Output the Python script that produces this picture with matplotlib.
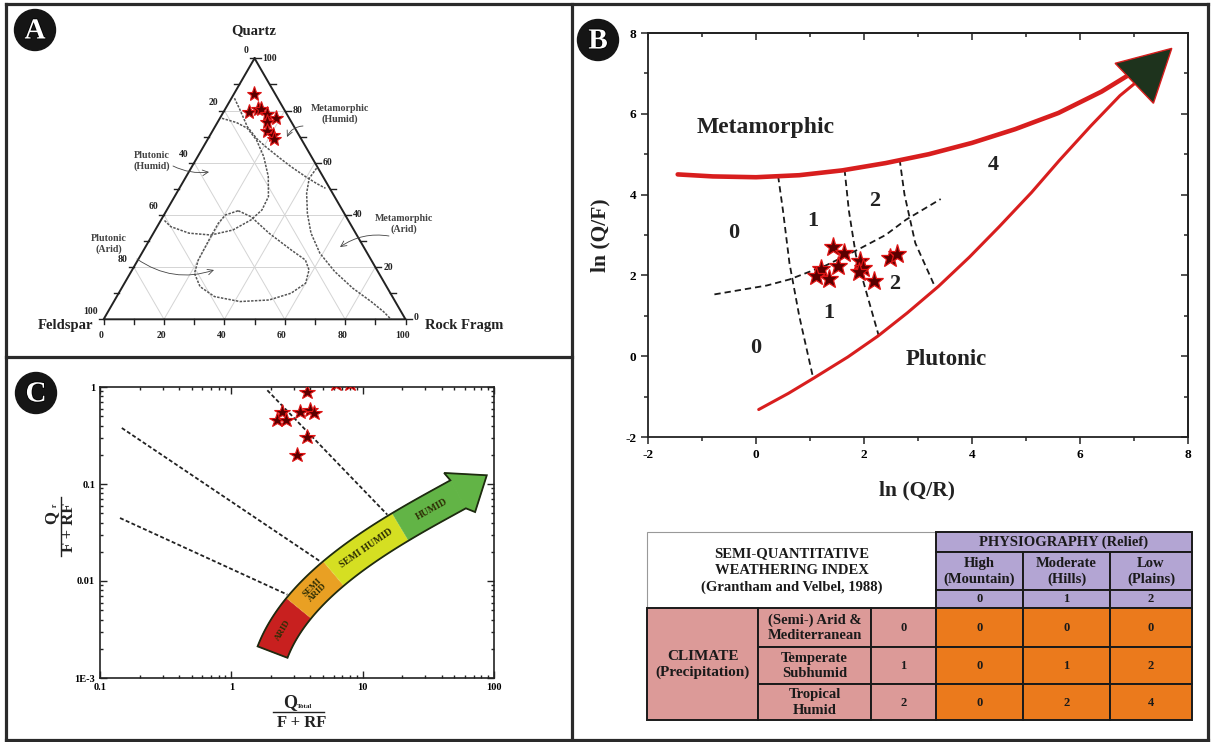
import numpy as np
import matplotlib
matplotlib.use("Agg")
import matplotlib.pyplot as plt
from matplotlib.patches import Circle, Polygon, Rectangle
from matplotlib.transforms import IdentityTransform
import matplotlib.ticker as mticker
import matplotlib.patheffects as pe

W, H = 1211, 742
plt.rcParams['font.family'] = ['Liberation Serif', 'DejaVu Serif']
plt.rcParams['font.weight'] = 'bold'

RED = '#d81e1e'
STAR_FC = '#5a0000'
STAR_EC = '#e01515'

# ---------------- Panel A data (QFR ternary, %) ----------------
a_quartz   = [86.5, 79.5, 80.5, 80.5, 78.5, 77.0, 75.5, 72.0, 70.5, 69.0]
a_feldspar = [7.0, 12.0, 8.5, 7.5, 6.5, 4.5, 8.0, 10.0, 8.5, 9.0]
a_rockfrag = [6.5, 8.5, 11.0, 12.0, 15.0, 18.5, 16.5, 18.0, 21.0, 22.0]
a_ticks = [0, 20, 40, 60, 80, 100]
# field boundaries (Q %, RF %)
a_meta_humid_q = [84.7, 80.2, 73.8, 69.3, 66.2, 61.7, 58.5, 54.7, 52.1, 50.2]
a_meta_humid_r = [1.0, 5.1, 10.7, 16.0, 20.5, 27.6, 32.8, 39.5, 44.4, 48.4]
a_plut_humid_q = [77.0, 75.4, 73.2, 68.7, 62.3, 54.7, 47.0, 41.9, 38.1, 34.2, 32.3, 33.0, 35.5, 38.1]
a_plut_humid_r = [0.7, 6.3, 11.0, 16.3, 21.9, 27.2, 31.1, 31.5, 29.8, 25.7, 19.4, 11.8, 4.5, 0.9]
a_plut_arid_q = [41.6, 39.3, 33.0, 26.6, 22.7, 18.9, 13.8, 10.0, 7.4, 6.8, 8.7, 12.5, 17.6, 22.7, 30.4, 36.8, 40.0, 41.6]
a_plut_arid_r = [23.8, 29.2, 38.3, 48.8, 55.5, 58.6, 60.0, 57.1, 51.1, 41.8, 32.4, 25.7, 21.3, 20.0, 19.7, 19.6, 20.4, 23.8]
a_meta_arid_q = [57.9, 54.0, 48.3, 40.6, 33.0, 25.3, 18.3, 11.9, 6.8, 2.9, 0.0]
a_meta_arid_r = [41.6, 41.1, 43.1, 47.2, 52.2, 59.0, 67.4, 76.6, 85.2, 91.3, 95.2]

# ---------------- Panel B data ----------------
b_lnQR = [1.42, 1.63, 1.51, 1.21, 1.12, 1.36, 1.92, 1.98, 1.90, 2.19, 2.48, 2.61]
b_lnQF = [2.71, 2.56, 2.23, 2.16, 1.98, 1.92, 2.35, 2.19, 2.08, 1.86, 2.44, 2.52]
b_meta_x = [-1.45, -0.8, 0.0, 0.8, 1.6, 2.4, 3.2, 4.0, 4.8, 5.6, 6.4, 6.95]
b_meta_y = [4.50, 4.45, 4.43, 4.48, 4.60, 4.78, 5.00, 5.28, 5.62, 6.02, 6.55, 7.00]
b_plut_x = [0.05, 0.6, 1.06, 1.7, 2.26, 2.8, 3.38, 3.95, 4.5, 5.1, 5.62, 6.2, 6.74, 7.24]
b_plut_y = [-1.32, -0.92, -0.55, -0.02, 0.50, 1.07, 1.73, 2.45, 3.20, 4.05, 4.85, 5.70, 6.45, 7.00]
b_head_x = [6.65, 7.70, 7.36]
b_head_y = [7.25, 7.62, 6.26]
b_dash1_x = [0.41, 0.50, 0.62, 0.80, 1.06]
b_dash1_y = [4.46, 3.60, 2.30, 1.00, -0.55]
b_dash2_x = [1.64, 1.72, 1.85, 2.04, 2.27]
b_dash2_y = [4.62, 3.60, 2.50, 1.60, 0.52]
b_dash3_x = [2.66, 2.75, 2.95, 3.31]
b_dash3_y = [4.87, 4.00, 2.80, 1.73]
b_dashh_x = [-0.77, 0.20, 0.62, 1.30, 1.89, 2.40, 2.78, 3.42]
b_dashh_y = [1.53, 1.75, 1.90, 2.25, 2.64, 3.00, 3.38, 3.89]
b_zone_labels = ['0', '1', '2', '4', '2', '1', '0']
b_zone_x = [-0.41, 1.06, 2.19, 4.39, 2.56, 1.35, 0.0]
b_zone_y = [3.05, 3.34, 3.84, 4.73, 1.78, 1.07, 0.21]
b_ticks = [-2, 0, 2, 4, 6, 8]

# ---------------- Panel C data ----------------
c_qt = [3.79, 2.42, 2.22, 2.61, 3.33, 3.97, 4.26, 3.75, 3.15, 6.3, 8.0]
c_qr = [0.888, 0.552, 0.461, 0.461, 0.552, 0.575, 0.539, 0.305, 0.198, 1.08, 1.08]
c_line1_x = [1.88, 15.4];  c_line1_y = [0.925, 0.0483]
c_line2_x = [0.1466, 4.74]; c_line2_y = [0.378, 0.01596]
c_line3_x = [0.142, 2.67]; c_line3_y = [0.0446, 0.00724]
c_arrow_x = [2.06, 3.40, 19.3, 53.3]
c_arrow_y = [0.00185, 0.0109, 0.0366, 0.0783]
c_head_x = [41.7, 88.1, 71.8]
c_head_y = [0.130, 0.123, 0.0514]
c_zone_names = ['ARID', 'SEMI\nARID', 'SEMI HUMID', 'HUMID']
c_zone_bounds = [0.0, 0.21, 0.40, 0.71, 1.0]
c_zone_colors = ['#c8201f', '#e9a023', '#d5df22', '#62b446']
c_xticks = [0.1, 1, 10, 100]; c_xlabels = ['0.1', '1', '10', '100']
c_yticks = [1e-3, 1e-2, 1e-1, 1]; c_ylabels = ['1E-3', '0.01', '0.1', '1']

# ---------------- Table data ----------------
t_title = "SEMI-QUANTITATIVE\nWEATHERING INDEX\n(Grantham and Velbel, 1988)"
t_relief_header = "PHYSIOGRAPHY (Relief)"
t_relief = ["High\n(Mountain)", "Moderate\n(Hills)", "Low\n(Plains)"]
t_relief_score = ["0", "1", "2"]
t_climate_header = "CLIMATE\n(Precipitation)"
t_climate = ["(Semi-) Arid &\nMediterranean", "Temperate\nSubhumid", "Tropical\nHumid"]
t_climate_score = ["0", "1", "2"]
t_index = [[0, 0, 0], [0, 1, 2], [0, 2, 4]]

# ======================================================================
fig = plt.figure(figsize=(W / 100, H / 100), dpi=100, facecolor='white')
ov = fig.add_axes([0, 0, 1, 1], zorder=0)
ov.set_xlim(0, W); ov.set_ylim(H, 0); ov.axis('off')

def px_axes(x0, y0, x1, y1, **kw):
    return fig.add_axes([x0 / W, 1 - y1 / H, (x1 - x0) / W, (y1 - y0) / H], **kw)

# ---- panel borders ----
BC = '#2a2a2a'
for (xs, ys) in [([6, 1208], [4, 4]), ([6, 1208], [740, 740]), ([6, 6], [4, 740]),
                 ([1208, 1208], [4, 740]), ([572, 572], [4, 740]), ([6, 572], [357, 357])]:
    ov.plot(xs, ys, color=BC, lw=2.3, solid_capstyle='projecting')

def badge(x, y, letter):
    ov.add_patch(Circle((x, y), 20.5, fc='#151515', ec='#151515', zorder=5))
    ov.text(x, y + 1, letter, color='white', fontsize=21, ha='center', va='center',
            fontweight='bold', zorder=6,
            path_effects=[pe.withStroke(linewidth=1.2, foreground='black')])

badge(35, 30, 'A'); badge(598, 40, 'B'); badge(36, 393, 'C')

# ======================= Panel A: ternary ============================
TBL = (103.6, 319.3); TBR = (405.5, 319.3); TTOPY = 58.3

def tern(q, r):
    q = np.asarray(q, float); r = np.asarray(r, float)
    x = TBL[0] + (r / 100 + q / 200) * (TBR[0] - TBL[0])
    y = TBL[1] - q / 100 * (TBL[1] - TTOPY)
    return x, y

# grid
for v in a_ticks[1:-1]:
    for (q0, r0, q1, r1) in [(v, 0, v, 100 - v), (0, v, 100 - v, v), (0, 100 - v, 100 - v, 0)]:
        gx, gy = tern([q0, q1], [r0, r1])
        ov.plot(gx, gy, color='#d4d4d4', lw=0.7, zorder=1)
# triangle
tx, ty = tern([100, 0, 0, 100], [0, 0, 100, 0])
ov.plot(tx, ty, color='#222222', lw=1.4, zorder=3)
# ticks every 10
for v in range(0, 101, 10):
    bx, by = tern(0, v)            # bottom: RF
    ov.plot([bx, bx], [by, by + 5], color='#222', lw=1, zorder=3)
    lx, ly = tern(100 - v, 0)      # left: Feldspar
    ov.plot([lx - 5, lx], [ly, ly], color='#222', lw=1, zorder=3)
    rx, ry = tern(v, 100 - v)      # right: Quartz
    ov.plot([rx, rx + 6], [ry, ry], color='#222', lw=1, zorder=3)
for v in a_ticks:
    bx, by = tern(0, v)
    ov.text(bx - 3, by + 16, str(v), fontsize=7, ha='center', va='center', color='#222')
    lx, ly = tern(100 - v, 0)
    ov.text(lx - 6, ly - 8, str(v), fontsize=7, ha='right', va='center', color='#222')
    rx, ry = tern(v, 100 - v)
    ov.text(rx + 8, ry - (2 if v == 0 else 0), str(v), fontsize=7, ha='left',
            va='center', color='#222')

ov.text(254, 31, 'Quartz', fontsize=10.5, ha='center', va='center', color='#222')
ov.text(65, 325, 'Feldspar', fontsize=10.5, ha='center', va='center', color='#222')
rt = ov.text(425, 326, 'Rock Fragments', fontsize=10.5, ha='left', va='center',
             color='#222', clip_on=True)
rt.set_clip_path(Rectangle((0, 0), 504, 357, transform=ov.transData))

# field boundaries
for q, r in [(a_meta_humid_q, a_meta_humid_r), (a_plut_humid_q, a_plut_humid_r),
             (a_plut_arid_q, a_plut_arid_r), (a_meta_arid_q, a_meta_arid_r)]:
    cx_, cy_ = tern(q, r)
    ov.plot(cx_, cy_, color='#555555', lw=1.1, ls=(0, (1.6, 0.9)), zorder=2)

lab_kw = dict(fontsize=7.2, ha='center', va='center', color='#444444', linespacing=1.25)
arr_kw = dict(arrowstyle='->', lw=0.6, color='#444444', shrinkA=0, shrinkB=0)
ov.text(340, 114, 'Metamorphic\n(Humid)', **lab_kw)
ov.annotate('', xy=(287, 137), xytext=(303, 126),
            arrowprops=dict(connectionstyle='arc3,rad=0.3', **arr_kw))
ov.text(152, 161, 'Plutonic\n(Humid)', **lab_kw)
ov.annotate('', xy=(209, 172), xytext=(173, 166),
            arrowprops=dict(connectionstyle='arc3,rad=0.15', **arr_kw))
ov.text(109, 244, 'Plutonic\n(Arid)', **lab_kw)
ov.annotate('', xy=(214, 270), xytext=(137, 259),
            arrowprops=dict(connectionstyle='arc3,rad=0.25', **arr_kw))
ov.text(404, 224, 'Metamorphic\n(Arid)', **lab_kw)
ov.annotate('', xy=(340, 247), xytext=(389, 236),
            arrowprops=dict(connectionstyle='arc3,rad=0.2', **arr_kw))

sx, sy = tern(a_quartz, a_rockfrag)
ov.plot(sx, sy, ls='none', marker='*', ms=11, mfc=STAR_FC, mec=STAR_EC, mew=0.8, zorder=4)

# ======================= Panel B ============================
axB = px_axes(648, 33, 1188, 437, zorder=2)
axB.set_facecolor('none')
axB.set_xlim(-2, 8); axB.set_ylim(-2, 8)
axB.plot(b_meta_x, b_meta_y, color=RED, lw=3.3, solid_capstyle='round', zorder=3)
axB.plot(b_plut_x, b_plut_y, color=RED, lw=2.2, solid_capstyle='round', zorder=3)
axB.add_patch(Polygon(np.column_stack([b_head_x, b_head_y]), closed=True,
                      fc='#1e331d', ec=RED, lw=1.0, zorder=4))
for xs, ys in [(b_dash1_x, b_dash1_y), (b_dash2_x, b_dash2_y),
               (b_dash3_x, b_dash3_y), (b_dashh_x, b_dashh_y)]:
    axB.plot(xs, ys, color='#1a1a1a', lw=1.3, ls=(0, (3.5, 2.2)), zorder=2)
axB.plot(b_lnQR, b_lnQF, ls='none', marker='*', ms=14, mfc=STAR_FC, mec=STAR_EC,
         mew=0.9, zorder=5)
for s, x, y in zip(b_zone_labels, b_zone_x, b_zone_y):
    axB.text(x, y, s, fontsize=16, ha='center', va='center', color='#222')
axB.text(0.17, 5.67, 'Metamorphic', fontsize=17, ha='center', va='center', color='#222')
axB.text(3.53, -0.08, 'Plutonic', fontsize=16.5, ha='center', va='center', color='#222')
axB.set_xticks(b_ticks); axB.set_yticks(b_ticks)
axB.set_xticklabels([str(t) for t in b_ticks]); axB.set_yticklabels([str(t) for t in b_ticks])
axB.xaxis.set_minor_locator(mticker.MultipleLocator(1))
axB.yaxis.set_minor_locator(mticker.MultipleLocator(1))
axB.tick_params(which='both', direction='out', labelsize=9.5, width=1.1, color='#222')
axB.tick_params(which='major', length=5)
axB.tick_params(which='minor', length=3)
for sp in axB.spines.values():
    sp.set_linewidth(1.3); sp.set_color('#222')
for side in ['top', 'right']:
    if side == 'top':
        sec = axB.secondary_xaxis('top')
        sec.set_xticks(b_ticks); sec.xaxis.set_minor_locator(mticker.MultipleLocator(1))
    else:
        sec = axB.secondary_yaxis('right')
        sec.set_yticks(b_ticks); sec.yaxis.set_minor_locator(mticker.MultipleLocator(1))
    sec.tick_params(which='both', direction='in', labeltop=False, labelright=False,
                    labelbottom=False, labelleft=False, width=1.1, color='#222')
    sec.tick_params(which='major', length=5)
    sec.tick_params(which='minor', length=3)
    for sp in sec.spines.values():
        sp.set_linewidth(1.3); sp.set_color('#222')
ov.text(600, 235, 'ln (Q/F)', fontsize=15.5, rotation=90, ha='center', va='center', color='#222')
ov.text(917, 490, 'ln (Q/R)', fontsize=15.5, ha='center', va='center', color='#222')

# ======================= Table ============================
cx = [647, 758, 871, 936, 1023, 1110, 1192]
ry = [532, 552, 590, 608, 647, 684, 720]
PURPLE = '#b3a5d3'; PINK = '#dc9a98'; ORANGE = '#eb7a1c'; TE = '#1a1a1a'

def cell(x0, x1, y0, y1, fc, ec=TE, lw=1.4):
    ov.add_patch(Rectangle((x0, y0), x1 - x0, y1 - y0, fc=fc, ec=ec, lw=lw, zorder=2))

def ctext(x0, x1, y0, y1, s, fs=10.5, ls=1.2):
    ov.text((x0 + x1) / 2, (y0 + y1) / 2 + 0.5, s, fontsize=fs, ha='center', va='center',
            color='#1a1a1a', linespacing=ls, zorder=3)

cell(cx[0], cx[3], ry[0], ry[3], 'white', ec='#999999', lw=0.8)
ctext(cx[0], cx[3], ry[0], ry[3], t_title, fs=10.5, ls=1.4)
cell(cx[3], cx[6], ry[0], ry[1], PURPLE)
ctext(cx[3], cx[6], ry[0], ry[1], t_relief_header, fs=10.5)
for j in range(3):
    cell(cx[3 + j], cx[4 + j], ry[1], ry[2], PURPLE)
    ctext(cx[3 + j], cx[4 + j], ry[1], ry[2], t_relief[j], fs=10.5, ls=1.15)
    cell(cx[3 + j], cx[4 + j], ry[2], ry[3], PURPLE)
    ctext(cx[3 + j], cx[4 + j], ry[2], ry[3], t_relief_score[j], fs=9)
cell(cx[0], cx[1], ry[3], ry[6], PINK)
ctext(cx[0], cx[1], ry[3], ry[6], t_climate_header, fs=11, ls=1.3)
for i in range(3):
    cell(cx[1], cx[2], ry[3 + i], ry[4 + i], PINK)
    ctext(cx[1], cx[2], ry[3 + i], ry[4 + i], t_climate[i], fs=10.5, ls=1.25)
    cell(cx[2], cx[3], ry[3 + i], ry[4 + i], PINK)
    ctext(cx[2], cx[3], ry[3 + i], ry[4 + i], t_climate_score[i], fs=9)
    for j in range(3):
        cell(cx[3 + j], cx[4 + j], ry[3 + i], ry[4 + i], ORANGE)
        ctext(cx[3 + j], cx[4 + j], ry[3 + i], ry[4 + i], str(t_index[i][j]), fs=9)

# ======================= Panel C ============================
axC = px_axes(100, 387, 494, 678, zorder=2)
axC.set_facecolor('none')
axC.set_xscale('log'); axC.set_yscale('log')
axC.set_xlim(0.1, 100); axC.set_ylim(1e-3, 1)
for xs, ys in [(c_line1_x, c_line1_y), (c_line2_x, c_line2_y), (c_line3_x, c_line3_y)]:
    axC.plot(xs, ys, color='#222', lw=1.3, ls=(0, (2.2, 1.3)), zorder=2)
axC.plot(c_qt, c_qr, ls='none', marker='*', ms=11.5, mfc=STAR_FC, mec=STAR_EC, mew=0.8,
         zorder=5, clip_on=True)
axC.set_xticks(c_xticks); axC.set_xticklabels(c_xlabels)
axC.set_yticks(c_yticks); axC.set_yticklabels(c_ylabels)
axC.xaxis.set_minor_locator(mticker.LogLocator(base=10, subs=np.arange(2, 10)))
axC.yaxis.set_minor_locator(mticker.LogLocator(base=10, subs=np.arange(2, 10)))
axC.xaxis.set_minor_formatter(mticker.NullFormatter())
axC.yaxis.set_minor_formatter(mticker.NullFormatter())
axC.tick_params(which='both', direction='in', top=True, right=True, labelsize=7.5,
                width=1.0, color='#222')
axC.tick_params(which='major', length=5)
axC.tick_params(which='minor', length=2.5)
for sp in axC.spines.values():
    sp.set_linewidth(1.2); sp.set_color('#222')

# curved climate arrow (drawn in display space from data control points)
P = axC.transData.transform(np.column_stack([c_arrow_x, c_arrow_y]))
HD = axC.transData.transform(np.column_stack([c_head_x, c_head_y]))

def bez(t):
    t = np.atleast_1d(t)[:, None]
    return ((1 - t) ** 3) * P[0] + 3 * ((1 - t) ** 2) * t * P[1] + 3 * (1 - t) * t ** 2 * P[2] + t ** 3 * P[3]

def bez_d(t):
    t = np.atleast_1d(t)[:, None]
    return 3 * ((1 - t) ** 2) * (P[1] - P[0]) + 6 * (1 - t) * t * (P[2] - P[1]) + 3 * t ** 2 * (P[3] - P[2])

hw = 16.0
ts = np.linspace(0, 1, 300)
C = bez(ts); D = bez_d(ts)
N = np.column_stack([-D[:, 1], D[:, 0]]) / np.linalg.norm(D, axis=1)[:, None]
UP = C + hw * N; LO = C - hw * N
IT = IdentityTransform()
for k in range(4):
    m = (ts >= c_zone_bounds[k] - 1e-9) & (ts <= c_zone_bounds[k + 1] + 1e-9)
    poly = np.vstack([UP[m], LO[m][::-1]])
    axC.add_patch(Polygon(poly, closed=True, fc=c_zone_colors[k], ec=c_zone_colors[k],
                          lw=0.6, transform=IT, zorder=3, clip_on=False))
head = np.vstack([UP[-1], HD[0], HD[1], HD[2], LO[-1]])
axC.add_patch(Polygon(head, closed=True, fc=c_zone_colors[-1], ec=c_zone_colors[-1], lw=0.6,
                      transform=IT, zorder=3, clip_on=False))
outline = np.vstack([UP, HD, LO[::-1]])
axC.add_patch(Polygon(outline, closed=True, fill=False, ec='#1e2a10', lw=1.3,
                      transform=IT, zorder=4, clip_on=False))
for name, tc, fs in zip(c_zone_names, [0.10, 0.305, 0.555, 0.86], [6.5, 6.5, 7, 7]):
    cpt = bez(tc)[0]; dv = bez_d(tc)[0]
    ang = np.degrees(np.arctan2(dv[1], dv[0]))
    axC.text(cpt[0], cpt[1], name, transform=IT, rotation=ang, rotation_mode='anchor',
             ha='center', va='center', fontsize=fs, color='#2e2e05', zorder=6,
             linespacing=0.95, clip_on=False)

# axis labels (fractions)
ov.text(290, 703, 'Q', fontsize=13, ha='center', va='center', color='#222')
ov.text(305, 707, 'Total', fontsize=5, ha='center', va='center', color='#222')
ov.plot([273, 324], [712, 712], color='#222', lw=1.0)
ov.text(302, 723, 'F + RF', fontsize=12, ha='center', va='center', color='#222')
ov.text(51, 517, 'Q', fontsize=12, rotation=90, ha='center', va='center', color='#222')
ov.text(55, 505, 'r', fontsize=5.5, rotation=90, ha='center', va='center', color='#222')
ov.plot([61, 61], [497, 556], color='#222', lw=1.0)
ov.text(69, 527, 'F + RF', fontsize=12, rotation=90, ha='center', va='center', color='#222')

fig.savefig('out.png', dpi=100, facecolor='white')
